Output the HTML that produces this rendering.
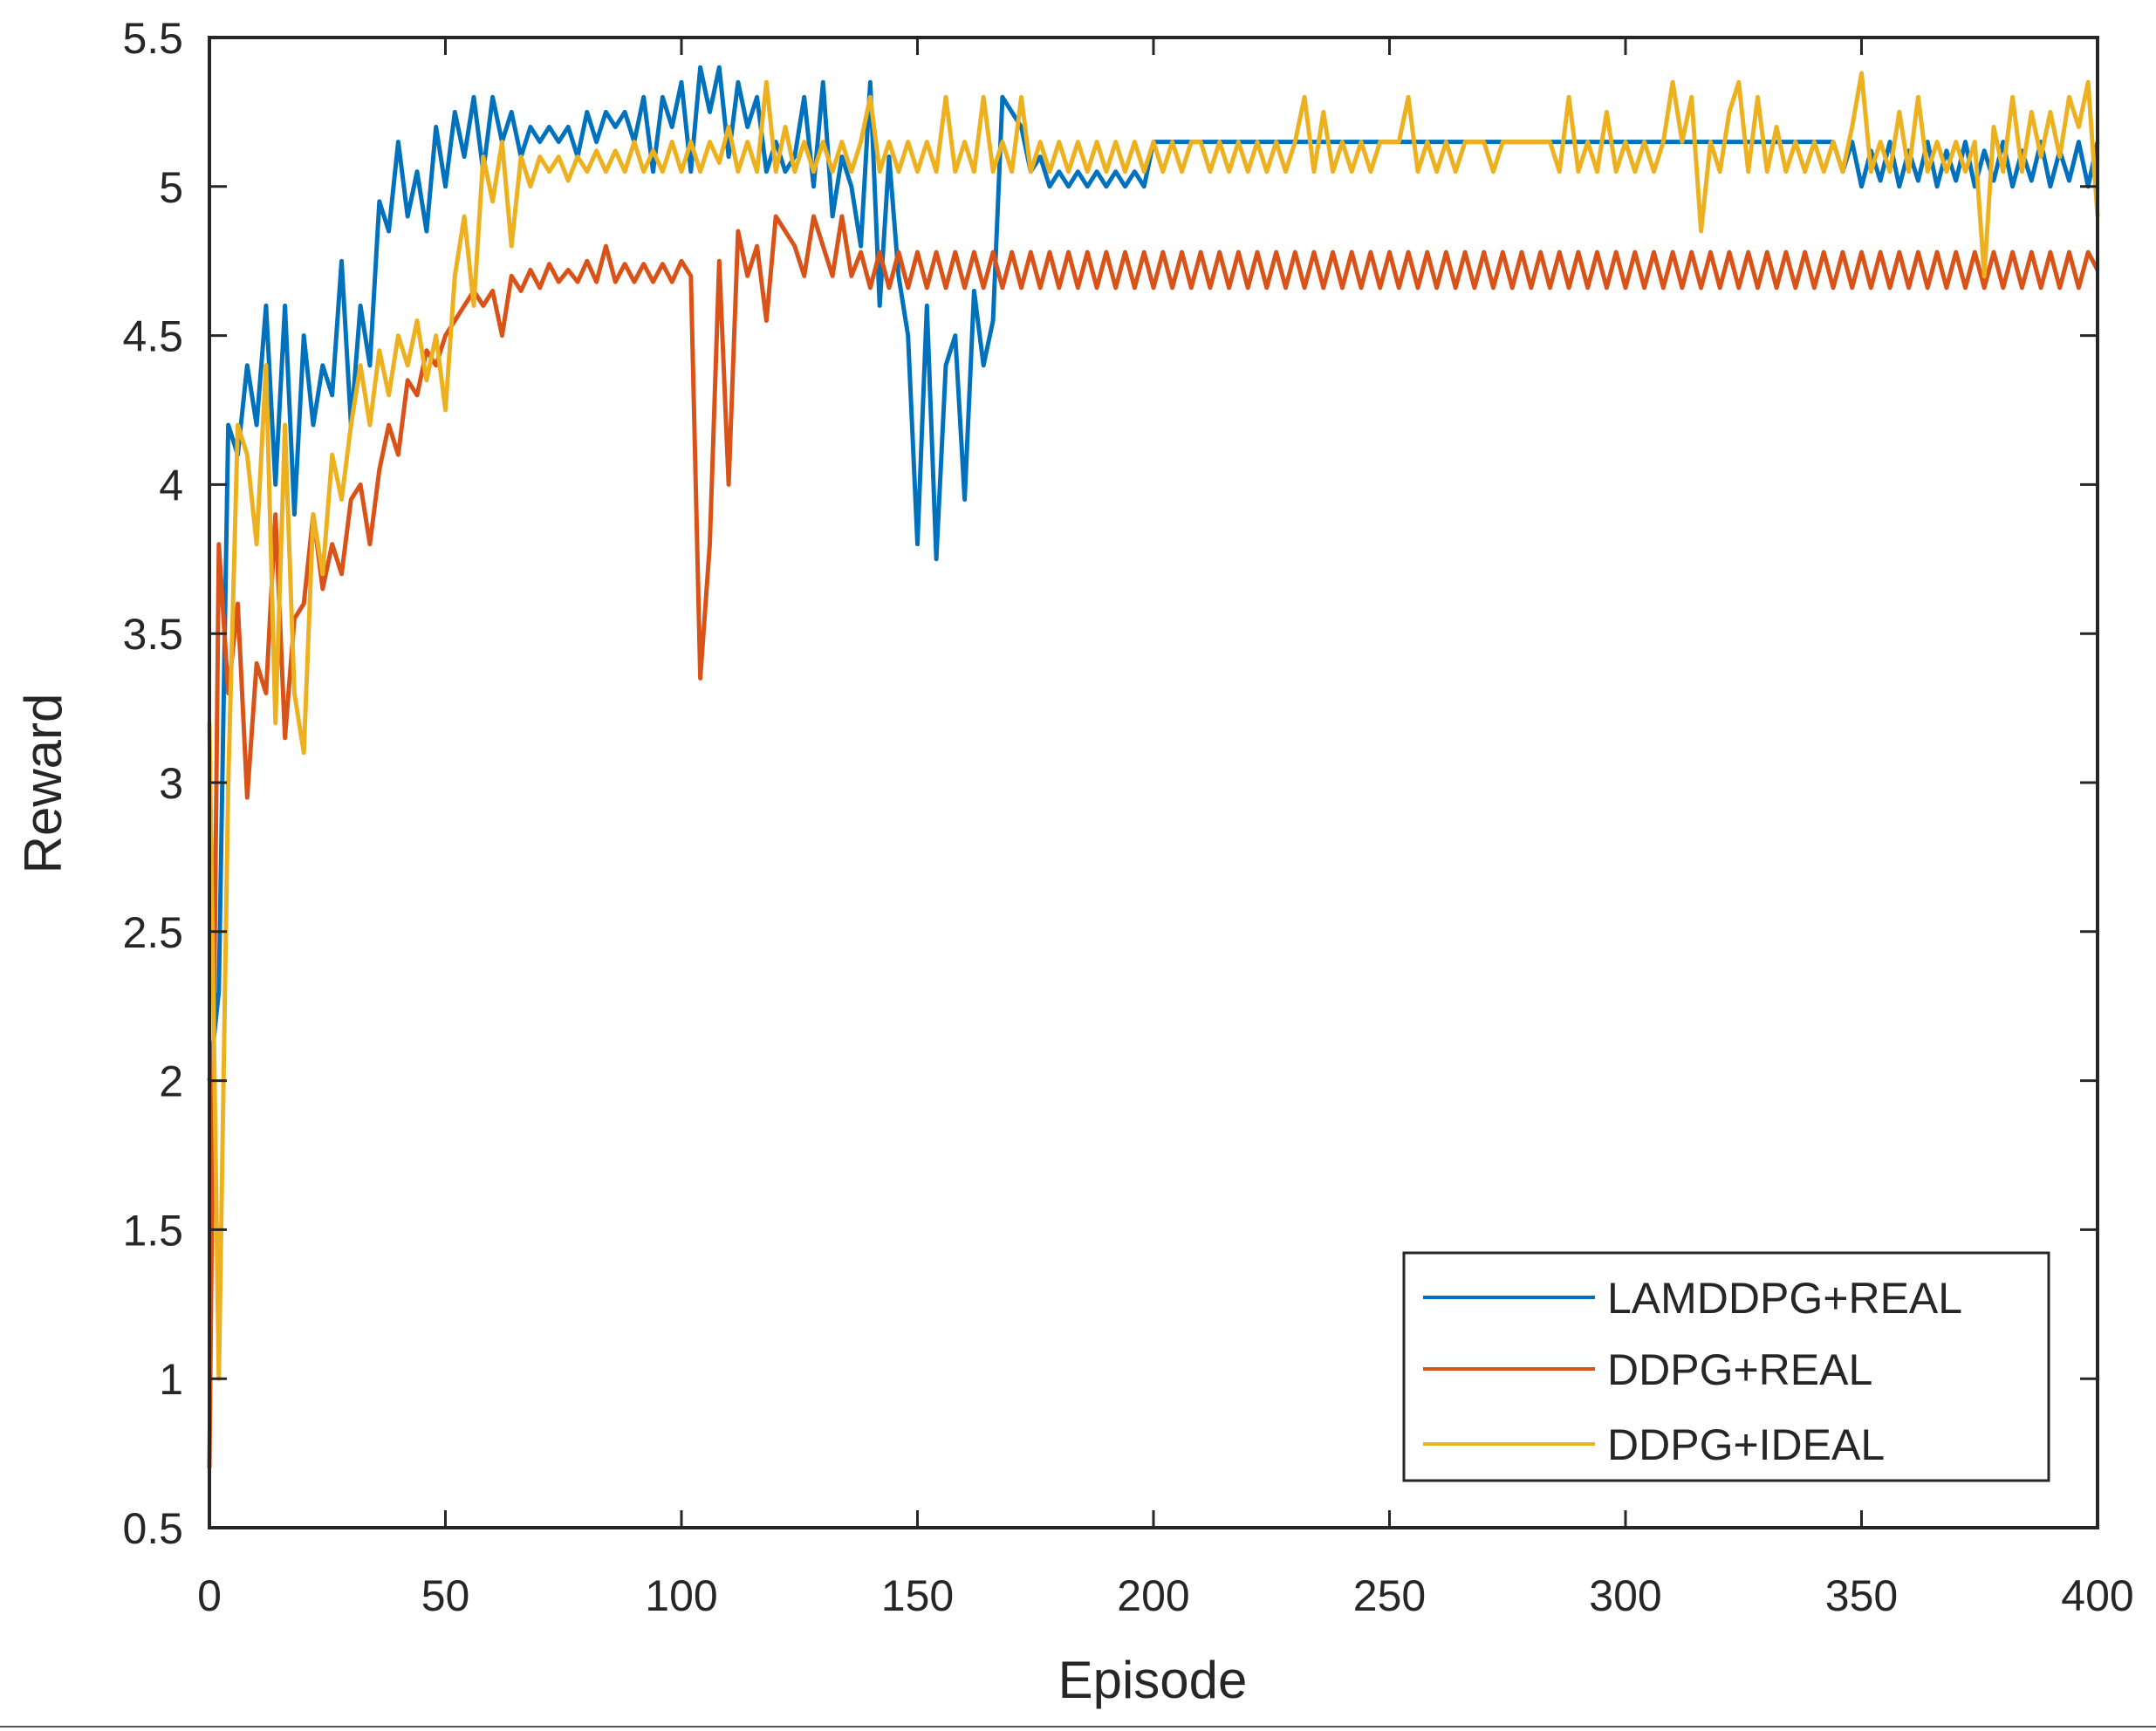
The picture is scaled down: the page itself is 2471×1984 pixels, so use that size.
<!DOCTYPE html>
<html><head><meta charset="utf-8">
<style>
html,body{margin:0;padding:0;background:#fff;}
svg{display:block;font-family:"Liberation Sans",Arial,sans-serif;}
</style></head>
<body>
<svg id="chart" width="2471" height="1984" viewBox="0 0 2471 1984" xmlns="http://www.w3.org/2000/svg">
<rect x="0" y="0" width="2471" height="1984" fill="#fff"/>
<g id="plot"></g>
<g id="axes"></g>
<line x1="0" y1="1979" x2="2471" y2="1979" stroke="#555" stroke-width="2"/>
</svg>
<script>
const xTicks=[0,50,100,150,200,250,300,350,400];
const yTicks=[0.5,1,1.5,2,2.5,3,3.5,4,4.5,5,5.5];
const yTickLabels=["0.5","1","1.5","2","2.5","3","3.5","4","4.5","5","5.5"];
const xStep=2;
const seriesNames=["LAMDDPG+REAL","DDPG+REAL","DDPG+IDEAL"];
const blue=[2.0,2.3,4.2,4.1,4.4,4.2,4.6,4.0,4.6,3.9,
4.5,4.2,4.4,4.3,4.75,4.2,4.6,4.4,4.95,4.85,
5.15,4.9,5.05,4.85,5.2,5.0,5.25,5.1,5.3,5.05,
5.3,5.15,5.25,5.1,5.2,5.15,5.2,5.15,5.2,5.1,
5.25,5.15,5.25,5.2,5.25,5.15,5.3,5.05,5.3,5.2,
5.35,5.05,5.4,5.25,5.4,5.1,5.35,5.2,5.3,5.05,
5.15,5.05,5.1,5.3,5.0,5.35,4.9,5.1,5.0,4.8,
5.35,4.6,5.1,4.7,4.5,3.8,4.6,3.75,4.4,4.5,
3.95,4.65,4.4,4.55,5.3,5.25,5.2,5.05,5.1,5.0,
5.05,5.0,5.05,5.0,5.05,5.0,5.05,5.0,5.05,5.0,
5.15,5.15,5.15,5.15,5.15,5.15,5.15,5.15,5.15,5.15,
5.15,5.15,5.15,5.15,5.15,5.15,5.15,5.15,5.15,5.15,
5.15,5.15,5.15,5.15,5.15,5.15,5.15,5.15,5.15,5.15,
5.15,5.15,5.15,5.15,5.15,5.15,5.15,5.15,5.15,5.15,
5.15,5.15,5.15,5.15,5.15,5.15,5.15,5.15,5.15,5.15,
5.15,5.15,5.15,5.15,5.15,5.15,5.15,5.15,5.15,5.15,
5.15,5.15,5.15,5.15,5.15,5.15,5.15,5.15,5.15,5.15,
5.15,5.15,5.15,5.05,5.15,5.0,5.12,5.02,5.15,5.0,
5.12,5.02,5.15,5.0,5.12,5.02,5.15,5.0,5.12,5.02,
5.15,5.0,5.12,5.02,5.15,5.0,5.12,5.02,5.15,5.0,
5.15];
const orange=[0.7,3.8,3.3,3.6,2.95,3.4,3.3,3.9,3.15,3.55,
3.6,3.9,3.65,3.8,3.7,3.95,4.0,3.8,4.05,4.2,
4.1,4.35,4.3,4.45,4.4,4.5,4.55,4.6,4.65,4.6,
4.65,4.5,4.7,4.65,4.72,4.66,4.74,4.68,4.72,4.68,
4.75,4.68,4.8,4.68,4.74,4.68,4.74,4.68,4.74,4.68,
4.75,4.7,3.35,3.8,4.75,4.0,4.85,4.7,4.8,4.55,
4.9,4.85,4.8,4.7,4.9,4.8,4.7,4.9,4.7,4.78,
4.66,4.78,4.66,4.78,4.66,4.78,4.66,4.78,4.66,4.78,
4.66,4.78,4.66,4.78,4.66,4.78,4.66,4.78,4.66,4.78,
4.66,4.78,4.66,4.78,4.66,4.78,4.66,4.78,4.66,4.78,
4.66,4.78,4.66,4.78,4.66,4.78,4.66,4.78,4.66,4.78,
4.66,4.78,4.66,4.78,4.66,4.78,4.66,4.78,4.66,4.78,
4.66,4.78,4.66,4.78,4.66,4.78,4.66,4.78,4.66,4.78,
4.66,4.78,4.66,4.78,4.66,4.78,4.66,4.78,4.66,4.78,
4.66,4.78,4.66,4.78,4.66,4.78,4.66,4.78,4.66,4.78,
4.66,4.78,4.66,4.78,4.66,4.78,4.66,4.78,4.66,4.78,
4.66,4.78,4.66,4.78,4.66,4.78,4.66,4.78,4.66,4.78,
4.66,4.78,4.66,4.78,4.66,4.78,4.66,4.78,4.66,4.78,
4.66,4.78,4.66,4.78,4.66,4.78,4.66,4.78,4.66,4.78,
4.66,4.78,4.66,4.78,4.66,4.78,4.66,4.78,4.66,4.78,
4.72];
const yellow=[3.2,1.0,3.0,4.2,4.1,3.8,4.4,3.2,4.2,3.3,
3.1,3.9,3.7,4.1,3.95,4.2,4.4,4.2,4.45,4.3,
4.5,4.4,4.55,4.35,4.5,4.25,4.7,4.9,4.6,5.1,
4.95,5.15,4.8,5.1,5.0,5.1,5.05,5.1,5.02,5.1,
5.05,5.12,5.05,5.12,5.05,5.15,5.05,5.12,5.05,5.15,
5.05,5.15,5.05,5.15,5.08,5.2,5.05,5.15,5.05,5.35,
5.05,5.2,5.05,5.15,5.05,5.15,5.05,5.15,5.05,5.15,
5.3,5.05,5.15,5.05,5.15,5.05,5.15,5.05,5.3,5.05,
5.15,5.05,5.3,5.05,5.15,5.05,5.3,5.05,5.15,5.05,
5.15,5.05,5.15,5.05,5.15,5.05,5.15,5.05,5.15,5.05,
5.15,5.05,5.15,5.05,5.15,5.15,5.05,5.15,5.05,5.15,
5.05,5.15,5.05,5.15,5.05,5.15,5.3,5.05,5.25,5.05,
5.15,5.05,5.15,5.05,5.15,5.15,5.15,5.3,5.05,5.15,
5.05,5.15,5.05,5.15,5.15,5.15,5.05,5.15,5.15,5.15,
5.15,5.15,5.15,5.05,5.3,5.05,5.15,5.05,5.25,5.05,
5.15,5.05,5.15,5.05,5.15,5.35,5.15,5.3,4.85,5.15,
5.05,5.25,5.35,5.05,5.3,5.05,5.2,5.05,5.15,5.05,
5.15,5.05,5.15,5.05,5.2,5.38,5.05,5.15,5.05,5.25,
5.05,5.3,5.05,5.15,5.05,5.15,5.05,5.15,4.7,5.2,
5.05,5.3,5.05,5.25,5.1,5.25,5.1,5.3,5.2,5.35,
4.9];

const NS='http://www.w3.org/2000/svg';
const L=240,R=2404,T=43,B=1751;
const xMin=0,xMax=400,yMin=0.5,yMax=5.5;
function xs(v){return L+(v-xMin)/(xMax-xMin)*(R-L);}
function ys(v){return B-(v-yMin)/(yMax-yMin)*(B-T);}
function mk(tag,attrs,parent){const e=document.createElementNS(NS,tag);for(const k in attrs)e.setAttribute(k,attrs[k]);parent.appendChild(e);return e;}
const plot=document.getElementById('plot');
const axes=document.getElementById('axes');
const colors=['#0072BD','#D95319','#EDB120'];
const allSeries=[blue,orange,yellow];
const lineNames=['series-lamddpg-real','series-ddpg-real','series-ddpg-ideal'];
allSeries.forEach((s,i)=>{
  const d=s.map((v,j)=>(j?'L':'M')+xs(j*xStep).toFixed(1)+' '+ys(v).toFixed(1)).join(' ');
  const p=mk('path',{d:d,fill:'none',stroke:colors[i],'stroke-width':5,'stroke-linejoin':'round'},plot);
  
  
});
const box=mk('rect',{x:L,y:T,width:R-L,height:B-T,fill:'none',stroke:'#262626','stroke-width':4},axes);


xTicks.forEach(v=>{
  const x=xs(v);
  const t1=mk('line',{x1:x,y1:B,x2:x,y2:B-20,stroke:'#262626','stroke-width':3},axes);
  
  
  const t2=mk('line',{x1:x,y1:T,x2:x,y2:T+20,stroke:'#262626','stroke-width':3},axes);
  
  
  const tx=mk('text',{x:x,y:1846,'text-anchor':'middle','font-size':50,fill:'#262626'},axes);
  tx.textContent=String(v);
  
  
});
yTicks.forEach((v,i)=>{
  const y=ys(v);
  const t1=mk('line',{x1:L,y1:y,x2:L+20,y2:y,stroke:'#262626','stroke-width':3},axes);
  
  
  const t2=mk('line',{x1:R,y1:y,x2:R-20,y2:y,stroke:'#262626','stroke-width':3},axes);
  
  
  const tx=mk('text',{x:210,y:y+18,'text-anchor':'end','font-size':50,fill:'#262626'},axes);
  tx.textContent=yTickLabels[i];
  
  
});
const xl=mk('text',{x:1321,y:1946,'text-anchor':'middle','font-size':60,fill:'#262626'},axes);
xl.textContent='Episode';


const yl=mk('text',{x:0,y:0,'text-anchor':'middle','font-size':60,fill:'#262626',transform:'translate(70,898) rotate(-90)'},axes);
yl.textContent='Reward';


const lg=mk('g',{},axes);


const lb=mk('rect',{x:1609,y:1436,width:739,height:261,fill:'#fff',stroke:'#262626','stroke-width':3},lg);


const ly=[1487,1569,1655];
seriesNames.forEach((n,i)=>{
  const ln=mk('line',{x1:1631,y1:ly[i],x2:1828,y2:ly[i],stroke:colors[i],'stroke-width':4},lg);
  
  
  const t=mk('text',{x:1842,y:ly[i]+18,'font-size':50,fill:'#262626'},lg);
  t.textContent=n;
  
  
});
</script>
</body></html>
